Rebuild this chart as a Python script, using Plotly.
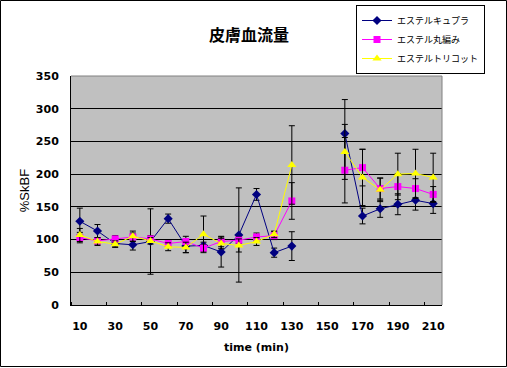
import plotly.graph_objects as go

# ---- data ----
times = [10, 20, 30, 40, 50, 60, 70, 80, 90, 100, 110, 120, 130, 140, 150, 160, 170, 180, 190, 200, 210]
x_tick_labels = [10, 30, 50, 70, 90, 110, 130, 150, 170, 190, 210]

cupra = [128, 113, 94, 92, 97, 132, 90, 91, 81, 107, 169, 80, 90, None, None, 262, 136, 147, 154, 160, 155]
cupra_err = [20, 10, 5, 8, 50, 7, 10, 5, 23, 72, 9, 7, 22, None, None, 52, 12, 13, 16, 15, 15]

maruami = [103, 98, 101, 104, 101, 94, 97, 87, 97, 99, 104, 106, 159, None, None, 206, 210, 178, 181, 178, 169]
maruami_err = [8, 5, 5, 6, 5, 5, 8, 5, 8, 5, 6, 6, 28, None, None, 50, 28, 16, 20, 15, 12]

tricot = [107, 97, 93, 105, 98, 89, 88, 108, 94, 91, 97, 108, 214, None, None, 234, 195, 176, 200, 201, 195]
tricot_err = [10, 6, 5, 8, 5, 6, 8, 28, 8, 10, 6, 5, 60, None, None, 42, 43, 18, 32, 37, 37]

series_names = ["エステルキュプラ", "エステル丸編み", "エステルトリコット"]

# ---- layout geometry ----
W, H = 507, 368
L, R, T, B = 71, 65, 76, 63
PW, PH = W - L - R, H - T - B

fig = go.Figure()

specs = [
    (series_names[0], cupra, cupra_err, "#000080", "diamond", 7),
    (series_names[1], maruami, maruami_err, "#FF00FF", "square", 7),
    (series_names[2], tricot, tricot_err, "#FFFF00", "triangle-up", 8),
]
for name, vals, errs, col, sym, sz in specs:
    fig.add_trace(go.Scatter(
        x=times, y=vals, name=name, mode="lines+markers",
        connectgaps=False,
        line=dict(color=col, width=1),
        marker=dict(color=col, symbol=sym, size=sz, line=dict(width=0)),
        error_y=dict(type="data", array=errs, visible=True, color="black",
                     thickness=1, width=3),
    ))

tick_font = dict(family="DejaVu Sans", size=11, color="black", weight="bold")

fig.update_layout(
    width=W, height=H,
    margin=dict(l=L, r=R, t=T, b=B, pad=0, autoexpand=False),
    paper_bgcolor="white",
    plot_bgcolor="#C0C0C0",
    title=dict(text="皮膚血流量", x=(249 - L) / PW, xref="paper", xanchor="center",
               y=1 - 35 / H, yref="container", yanchor="middle",
               font=dict(family="Noto Sans CJK JP", size=16, color="black", weight="bold")),
    showlegend=True,
    legend=dict(x=(420.5 - L) / PW, xanchor="center", y=(H - B - 5) / PH, yanchor="top",
                xref="paper", yref="paper",
                bgcolor="white", bordercolor="black", borderwidth=1,
                font=dict(family="Noto Sans CJK JP", size=9, color="black"),
                itemwidth=30, tracegroupgap=0),
    xaxis=dict(
        range=[5, 215], tickmode="array", tickvals=x_tick_labels,
        ticktext=[str(v) for v in x_tick_labels],
        ticks="", showgrid=False, zeroline=False,
        showline=True, linecolor="black", linewidth=1,
        tickfont=tick_font, ticklabelstandoff=11,
        minor=dict(ticks="inside", ticklen=3, tickcolor="black", tickwidth=1,
                   tick0=5, dtick=20, showgrid=False),
        title=dict(text="time (min)", standoff=11,
                   font=dict(family="DejaVu Sans", size=11, color="black", weight="bold")),
    ),
    yaxis=dict(
        range=[0, 350], tickmode="array", tickvals=list(range(0, 351, 50)),
        ticks="", showgrid=True, gridcolor="black", gridwidth=1, zeroline=False,
        showline=True, linecolor="black", linewidth=1,
        tickfont=tick_font, ticklabelstandoff=9,
        title=dict(text="%SkBF", standoff=3,
                   font=dict(family="Liberation Sans", size=13, color="black")),
    ),
)

# plot-area gray border (top and right) and outer chart frame
fig.add_shape(type="line", xref="x domain", yref="y domain", x0=0, x1=1, y0=1, y1=1,
              line=dict(color="#808080", width=1), layer="above")
fig.add_shape(type="line", xref="x domain", yref="y domain", x0=1, x1=1, y0=0, y1=1,
              line=dict(color="#808080", width=1), layer="above")
fig.add_shape(type="rect", xref="paper", yref="paper",
              x0=(0.5 - L) / PW, x1=(W - 0.5 - L) / PW,
              y0=(H - B - (H - 1.5)) / PH, y1=(H - B - 0.5) / PH,
              line=dict(color="black", width=1), fillcolor="rgba(0,0,0,0)", layer="above")

fig.write_html("out.html", config={"displayModeBar": False},
               post_script="document.body.style.margin='0';")
